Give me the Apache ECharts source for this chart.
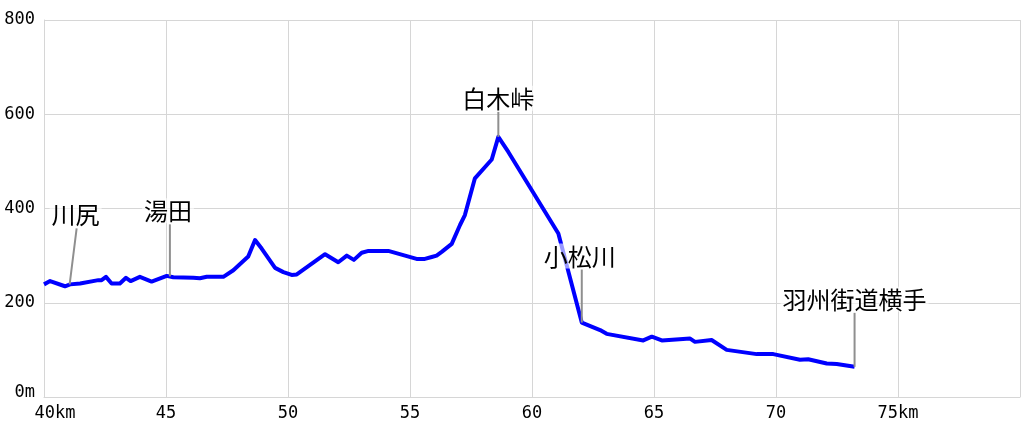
<!DOCTYPE html>
<html>
<head>
<meta charset="utf-8">
<script src="https://cdn.jsdelivr.net/npm/echarts@6/dist/echarts.min.js"></script>
<style>html,body{margin:0;padding:0;background:#fff}#c{width:1024px;height:430px}</style>
</head>
<body>
<div id="c"></div>
<script>
// distance along route (km)
const distanceKm = [40.0, 40.25, 40.86, 41.07, 41.48, 42.23, 42.36, 42.54, 42.77, 43.11, 43.36, 43.55, 43.93, 44.41, 45.03, 45.30, 46.12, 46.39, 46.67, 46.80, 47.35, 47.76, 48.37, 48.65, 48.92, 49.47, 49.81, 50.15, 50.36, 51.52, 52.06, 52.41, 52.70, 53.02, 53.30, 54.11, 55.27, 55.61, 55.89, 56.09, 56.30, 56.71, 57.05, 57.25, 57.66, 58.35, 58.62, 59.03, 61.08, 62.04, 62.79, 63.06, 64.56, 64.91, 65.32, 66.48, 66.68, 67.36, 67.98, 69.21, 69.89, 70.98, 71.32, 72.08, 72.49, 73.22];
// elevation (m)
const elevationM = [239, 246, 235, 239, 241, 248, 248, 255, 241, 241, 253, 246, 255, 245, 257, 254, 253, 252, 255, 255, 255, 269, 298, 333, 315, 274, 265, 259, 260, 303, 286, 300, 291, 306, 310, 310, 293, 293, 297, 300, 308, 325, 365, 386, 464, 504, 552, 520, 347, 158, 142, 134, 120, 128, 120, 124, 117, 121, 100, 91, 91, 79, 80, 71, 70, 64];
// place annotations
const placeNames = ['川尻', '湯田', '白木峠', '小松川', '羽州街道横手'];
const placeKm = [41.05, 45.16, 58.62, 62.04, 73.22];
const placeElev = [239, 256, 552, 158, 64];
// axis ticks
const xTicks = [40, 45, 50, 55, 60, 65, 70, 75, 80];
const yTicks = [0, 200, 400, 600, 800];

// label layout (pixels): leader length, leader top x-shift, text x-shift
const leaderStyle = {
  '川尻': {len: 56, dx: 7, tx: 6},
  '湯田': {len: 52, dx: 0, tx: -2},
  '白木峠': {len: 25, dx: 0, tx: 0},
  '小松川': {len: 53, dx: 0, tx: -2},
  '羽州街道横手': {len: 54, dx: 0, tx: 0}
};

const lineData = distanceKm.map((d, i) => [d, elevationM[i]]);
const placeData = placeKm.map((d, i) => [d, placeElev[i], placeNames[i]]);

const chart = echarts.init(document.getElementById('c'), null, {renderer: 'canvas'});
const gridColor = '#d6d6d6';
const labelFont = 'DejaVu Sans Mono';

chart.setOption({
  animation: false,
  grid: {left: 44, right: 4, top: 20, bottom: 33, containLabel: false},
  xAxis: {
    type: 'value', min: xTicks[0], max: xTicks[xTicks.length - 1], interval: 5,
    axisLine: {show: true, lineStyle: {color: gridColor}},
    axisTick: {show: false},
    splitLine: {show: true, lineStyle: {color: gridColor, width: 1}},
    axisLabel: {
      color: '#000', fontFamily: labelFont, fontSize: 17, margin: 8,
      formatter: function (v) {
        if (v === xTicks[0]) return '{first|' + v + 'km}';
        if (v === 75) return v + 'km';
        if (v === xTicks[xTicks.length - 1]) return '';
        return String(v);
      },
      rich: {first: {fontFamily: labelFont, fontSize: 17, color: '#000', padding: [0, 0, 0, 22]}}
    }
  },
  yAxis: {
    type: 'value', min: yTicks[0], max: yTicks[yTicks.length - 1], interval: 200,
    axisLine: {show: true, lineStyle: {color: gridColor}},
    axisTick: {show: false},
    splitLine: {show: true, lineStyle: {color: gridColor, width: 1}},
    axisLabel: {
      color: '#000', fontFamily: labelFont, fontSize: 17, margin: 9,
      formatter: function (v) { return v === 0 ? '{zero|0m}' : String(v); },
      rich: {zero: {fontFamily: labelFont, fontSize: 17, color: '#000', padding: [0, 0, 8, 0]}}
    }
  },
  series: [
    {
      type: 'line', data: lineData, symbol: 'none', smooth: false,
      lineStyle: {color: '#0000ff', width: 4, join: 'round'}, z: 2
    },
    {
      type: 'custom', data: placeData, z: 5, clip: false,
      renderItem: function (params, api) {
        const name = placeNames[params.dataIndex];
        const st = leaderStyle[name];
        const p = api.coord([api.value(0), api.value(1)]);
        const topX = p[0] + st.dx, topY = p[1] - st.len;
        return {
          type: 'group',
          children: [
            {type: 'line', shape: {x1: p[0], y1: p[1], x2: topX, y2: topY},
             style: {stroke: '#8f8f8f', lineWidth: 2}},
            {type: 'text', x: p[0] + st.tx, y: topY - 1,
             style: {text: name, fill: '#000', font: '24px "Noto Sans CJK JP"',
                     align: 'center', verticalAlign: 'bottom',
                     backgroundColor: 'rgba(255,255,255,0.6)', padding: [1, 2, 0, 2]}}
          ]
        };
      }
    }
  ]
});
</script>
</body>
</html>
